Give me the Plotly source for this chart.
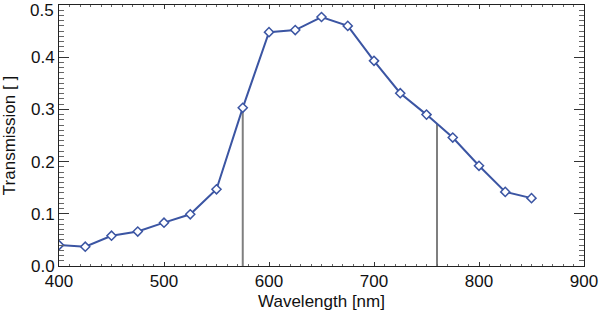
import numpy as np
import plotly.graph_objects as go

wavelength = [400, 425, 450, 475, 500, 525, 550, 575, 600, 625, 650, 675,
              700, 725, 750, 775, 800, 825, 850]
transmission = [0.040, 0.037, 0.058, 0.066, 0.083, 0.099, 0.147, 0.303, 0.448,
                0.452, 0.477, 0.460, 0.393, 0.331, 0.290, 0.246, 0.192, 0.142, 0.130]
cut_wavelengths = [575, 760]

x_ticks = [400, 500, 600, 700, 800, 900]
y_ticks = [0.0, 0.1, 0.2, 0.3, 0.4, 0.5]

blue = "#3b55a3"
font = "Liberation Sans, Arial, Helvetica, sans-serif"

fig = go.Figure()

cut_tops = np.interp(cut_wavelengths, wavelength, transmission)
for cw, top in zip(cut_wavelengths, cut_tops):
    fig.add_trace(go.Scatter(x=[cw, cw], y=[0, top], mode="lines",
                             line=dict(color="#7f7f7f", width=2),
                             showlegend=False, hoverinfo="skip"))

fig.add_trace(go.Scatter(
    x=wavelength, y=transmission, mode="lines+markers",
    line=dict(color=blue, width=2),
    marker=dict(symbol="diamond", size=7, color="white",
                line=dict(color=blue, width=1.5)),
    showlegend=False))

axis_common = dict(showgrid=False, zeroline=False, showline=True, automargin=False,
                   linecolor="#222222", linewidth=1, mirror="ticks",
                   ticks="inside", tickcolor="#333333", tickwidth=1,
                   ticklabeloverflow="allow",
                   tickfont=dict(family=font, size=17, color="#111111"),
                   title_font=dict(family=font, size=17, color="#111111"))

# top label drawn slightly lowered (as in the reference) so it is not clipped
y_ticktext = [f"{v:.1f}" for v in y_ticks]
top_label = y_ticktext[-1]
y_ticktext[-1] = ""

fig.update_xaxes(range=[400, 900], tickvals=x_ticks,
                 ticktext=[str(v) for v in x_ticks], ticklen=4,
                 minor=dict(dtick=10, ticklen=2, ticks="inside", tickcolor="#666666"),
                 title_text="Wavelength [nm]", title_standoff=4, **axis_common)
fig.update_yaxes(range=[0.0, 0.5], tickvals=y_ticks,
                 ticktext=y_ticktext, ticklen=10,
                 minor=dict(dtick=0.01, ticklen=5, ticks="inside", tickcolor="#666666"),
                 title_text="Transmission [ ]", title_standoff=11, **axis_common)

fig.add_annotation(x=0, xref="paper", y=y_ticks[-1], yref="y", text=top_label,
                   showarrow=False, xanchor="right", yanchor="middle",
                   xshift=-3, yshift=-5,
                   font=dict(family=font, size=17, color="#111111"))

fig.update_layout(width=600, height=312, plot_bgcolor="white", paper_bgcolor="white",
                  margin=dict(l=59, r=16, t=5, b=46))

fig.write_html("out.html", config={"displayModeBar": False},
               post_script="document.body.style.margin='0';document.body.style.overflow='hidden';")
